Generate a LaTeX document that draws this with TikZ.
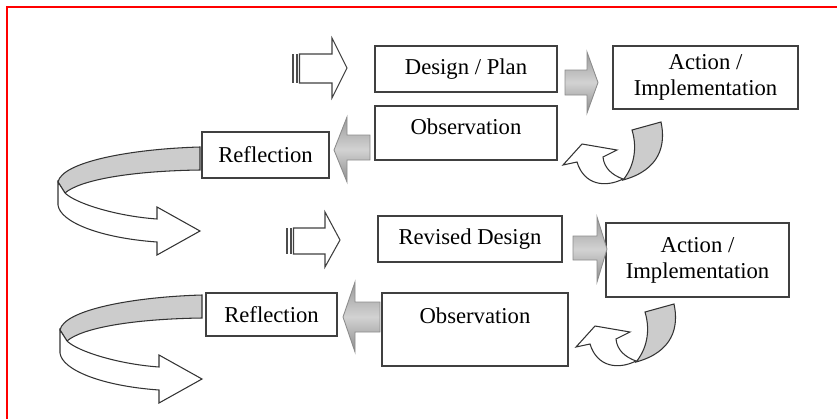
\documentclass[tikz,border=0pt]{standalone}
\usepackage{fontspec}
\setmainfont{Liberation Serif}
\usepackage{tikz}

\begin{document}
\begin{tikzpicture}[x=0.02cm, y=-0.02cm,
        stage/.style={rectangle, draw=black!75, line width=0.7pt, align=center, inner sep=0pt, font=\fontsize{12.9}{14.7}\selectfont},
        grayarrow/.style={draw=gray!90, line width=0.5pt, top color=gray!80, bottom color=gray!90, middle color=gray!35},
        hollowarrow/.style={draw=black!75, line width=0.6pt, fill=white},
        ribbonback/.style={draw=black!80, line width=0.6pt, fill=gray!40},
        ribbonfront/.style={draw=black!80, line width=0.6pt, fill=white}]
        \useasboundingbox (0,0) rectangle (837,419);
        \draw[red, line width=0.8pt] (7,419) -- (7,7) -- (837,7);

        \node (design) [stage, minimum width=3.64cm, minimum height=0.92cm] at (466,69) {Design / Plan};
        \node (act1) [stage, minimum width=3.7cm, minimum height=1.26cm] at (705.5,77.5) {Action /\\Implementation};
        \node (obs1) [stage, minimum width=3.64cm, minimum height=1.08cm, text depth=7pt] at (466,133) {Observation};
        \node (refl1) [stage, minimum width=2.54cm, minimum height=0.92cm] at (265.5,155) {Reflection};
        \node (revised) [stage, minimum width=3.68cm, minimum height=0.92cm] at (470,239) {Revised Design};
        \node (act2) [stage, minimum width=3.66cm, minimum height=1.48cm] at (697.5,260) {Action /\\Implementation};
        \node (obs2) [stage, minimum width=3.72cm, minimum height=1.46cm, text depth=16pt] at (475,329.5) {Observation};
        \node (refl2) [stage, minimum width=2.62cm, minimum height=0.86cm] at (271.5,314.5) {Reflection};

        % striped arrows in front of each cycle
        \fill[black!70] (292,54) rectangle (294,83);
        \fill[black!70] (296,54) rectangle (297.5,83);
        \draw[hollowarrow] (299.5,54) -- (332,54) -- (332,38) -- (347,68) -- (332,98) -- (332,83) -- (299.5,83) -- cycle;
        \fill[black!70] (286,228) rectangle (288,254);
        \fill[black!70] (290,228) rectangle (291.5,254);
        \draw[hollowarrow] (293.5,228) -- (325,228) -- (325,212) -- (340,240) -- (325,267) -- (325,254) -- (293.5,254) -- cycle;

        % shaded block arrows
        \path[grayarrow] (565,70) -- (587,70) -- (587,52) -- (598,82.5) -- (587,113) -- (587,95) -- (565,95) -- cycle;
        \path[grayarrow] (573,236) -- (597,236) -- (597,217) -- (607,249) -- (597,282) -- (597,260) -- (573,260) -- cycle;
        \path[grayarrow] (370,135) -- (347,135) -- (347,117) -- (334,150) -- (347,182) -- (347,160) -- (370,160) -- cycle;
        \path[grayarrow] (380,302) -- (355,302) -- (355,282) -- (343,317) -- (355,352) -- (355,332) -- (380,332) -- cycle;

        % curled arrows back to observation
        \foreach \dx/\dy in {0/0, 13/182} {
            \begin{scope}[shift={(\dx,\dy)}]
                \draw[ribbonback] (632,130) -- (661,122) .. controls (666,145) and (660,170) .. (623,180)
                    .. controls (633,168) and (638,150) .. (632,130) -- cycle;
                \draw[ribbonfront] (623,179) .. controls (605,188) and (584,185) .. (577,162) -- (563,165) -- (582,144)
                    -- (617,150) -- (603,157) .. controls (604,168) and (612,175) .. (623,179) -- cycle;
            \end{scope}
        }

        % turning arrows from reflection
        \foreach \dx/\dy in {0/0, 2/148} {
            \begin{scope}[shift={(\dx,\dy)}]
                \draw[ribbonback] (200,147) .. controls (130,149) and (62,162) .. (58,182) -- (65,193)
                    .. controls (80,180) and (130,171) .. (200,170) -- cycle;
                \draw[ribbonfront] (58,182) -- (58,205) .. controls (60,222) and (100,238) .. (157,242) -- (157,255)
                    -- (200,231) -- (157,207) -- (157,219) .. controls (115,216) and (75,203) .. (65,193) -- cycle;
            \end{scope}
        }
    \end{tikzpicture}
\end{document}
